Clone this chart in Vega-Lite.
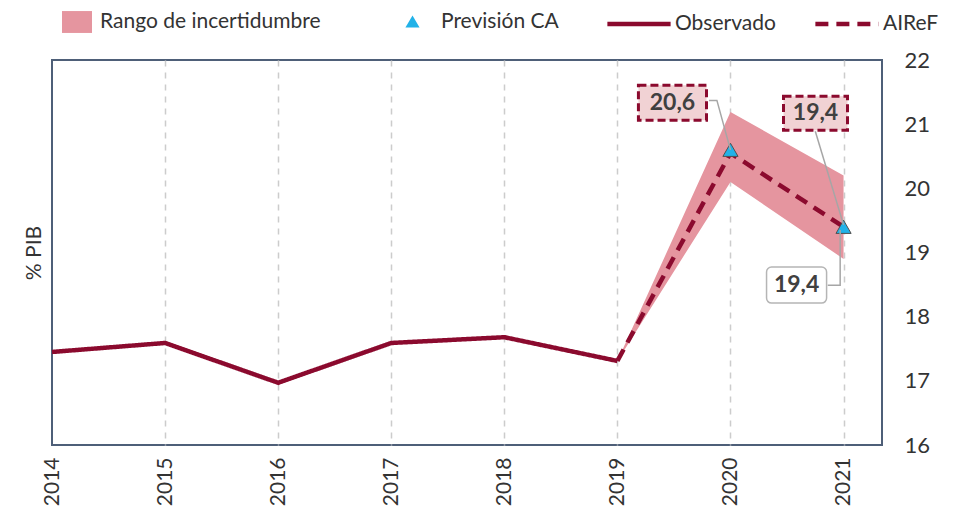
{
  "$schema": "https://vega.github.io/schema/vega-lite/v6.json",
  "width": 830,
  "height": 385,
  "autosize": {"type": "none"},
  "padding": {"left": 52, "top": 60, "right": 75, "bottom": 70},
  "config": {
    "font": "Lato",
    "view": {"stroke": "#4e5f78", "strokeWidth": 2},
    "axis": {"labelFont": "Lato", "titleFont": "Lato", "labelColor": "#333333", "titleColor": "#333333"},
    "legend": {"labelFont": "Lato", "labelColor": "#333333", "labelFontSize": 21, "labelLimit": 400}
  },
  "resolve": {"axis": {"x": "independent", "y": "independent"}},
  "datasets": {
    "obs": [
      {"year": 2014, "value": 17.45},
      {"year": 2015, "value": 17.59},
      {"year": 2016, "value": 16.97},
      {"year": 2017, "value": 17.59},
      {"year": 2018, "value": 17.68},
      {"year": 2019, "value": 17.31}
    ],
    "airef": [
      {"year": 2019, "value": 17.31},
      {"year": 2020, "value": 20.55},
      {"year": 2021, "value": 19.4}
    ],
    "band": [
      {"year": 2019, "lo": 17.31, "hi": 17.31},
      {"year": 2020, "lo": 20.1, "hi": 21.19},
      {"year": 2021, "lo": 18.9, "hi": 20.2}
    ],
    "ca": [
      {"year": 2020, "value": 20.6},
      {"year": 2021, "value": 19.4}
    ],
    "connectors": [
      {"id": "a", "ord": 1, "x": 2019.81, "y": 21.37},
      {"id": "a", "ord": 2, "x": 2019.88, "y": 21.37},
      {"id": "a", "ord": 3, "x": 2020.0, "y": 20.6},
      {"id": "b", "ord": 1, "x": 2020.75, "y": 20.89},
      {"id": "b", "ord": 2, "x": 2021.0, "y": 19.43},
      {"id": "c", "ord": 1, "x": 2020.86, "y": 18.49},
      {"id": "c", "ord": 2, "x": 2020.97, "y": 18.49},
      {"id": "c", "ord": 3, "x": 2020.97, "y": 19.35}
    ],
    "boxes": [
      {"kind": "airef", "x1": 2019.186, "x2": 2019.788, "y1": 21.607, "y2": 21.062},
      {"kind": "airef", "x1": 2020.469, "x2": 2021.035, "y1": 21.436, "y2": 20.907},
      {"kind": "ca", "x1": 2020.319, "x2": 2020.85, "y1": 18.773, "y2": 18.212}
    ],
    "labels": [
      {"x": 2019.487, "y": 21.33, "text": "20,6"},
      {"x": 2020.752, "y": 21.17, "text": "19,4"},
      {"x": 2020.585, "y": 18.49, "text": "19,4"}
    ]
  },
  "layer": [
    {
      "data": {"name": "band"},
      "mark": {"type": "area", "opacity": 1},
      "encoding": {
        "x": {
          "field": "year", "type": "quantitative",
          "scale": {"domain": [2014, 2021.34], "nice": false, "zero": false},
          "axis": {
            "values": [2014, 2015, 2016, 2017, 2018, 2019, 2020, 2021],
            "format": "d", "title": null, "labelAngle": -90, "labelFontSize": 21,
            "labelPadding": 12, "ticks": false, "domain": false,
            "grid": true, "gridDash": [6, 6], "gridWidth": 1.5,
            "gridColor": {"condition": {"test": "datum.value === 2014", "value": "transparent"}, "value": "#cccccc"}
          }
        },
        "y": {
          "field": "lo", "type": "quantitative",
          "scale": {"domain": [16, 22], "nice": false, "zero": false},
          "axis": {
            "orient": "right", "title": null, "values": [16, 17, 18, 19, 20, 21, 22],
            "labelFontSize": 22, "labelPadding": 22, "ticks": false, "domain": false, "grid": false
          }
        },
        "y2": {"field": "hi"},
        "fill": {
          "datum": "Rango de incertidumbre",
          "scale": {"domain": ["Rango de incertidumbre"], "range": ["#e5959f"]},
          "legend": {
            "title": null, "orient": "none", "legendX": 10, "legendY": -53,
            "symbolType": "M-1,-0.73H1V0.73H-1Z", "symbolSize": 900,
            "symbolOpacity": 1, "symbolStrokeWidth": 0, "labelOffset": 8
          }
        }
      }
    },
    {
      "data": {"name": "obs"},
      "mark": {"type": "line", "color": "#8b0a2e", "strokeWidth": 4.5},
      "encoding": {
        "x": {"field": "year", "type": "quantitative", "axis": null},
        "y": {
          "field": "value", "type": "quantitative",
          "axis": {
            "orient": "left", "title": "% PIB", "labels": false, "ticks": false,
            "domain": false, "grid": false, "titleFontSize": 21, "titleFontWeight": "normal",
            "titlePadding": 8
          }
        },
        "strokeDash": {
          "datum": "Observado",
          "scale": {"domain": ["Observado", "AIReF"], "range": [[1, 0], [13, 8]]},
          "legend": {
            "title": null, "orient": "none", "legendX": 553, "legendY": -70,
            "direction": "horizontal", "symbolType": "stroke", "symbolSize": 4000,
            "symbolStrokeColor": "#8b0a2e", "symbolStrokeWidth": 4.5,
            "labelOffset": 2, "columnPadding": 30
          }
        }
      }
    },
    {
      "data": {"name": "airef"},
      "mark": {"type": "line", "color": "#8b0a2e", "strokeWidth": 4.5},
      "encoding": {
        "x": {"field": "year", "type": "quantitative", "axis": null},
        "y": {"field": "value", "type": "quantitative", "axis": null},
        "strokeDash": {"datum": "AIReF"}
      }
    },
    {
      "data": {"name": "ca"},
      "mark": {"type": "point", "filled": true, "fill": "#22b2e8", "stroke": "#505050", "strokeWidth": 1, "size": 230, "opacity": 1},
      "encoding": {
        "x": {"field": "year", "type": "quantitative", "axis": null},
        "y": {"field": "value", "type": "quantitative", "axis": null},
        "shape": {
          "datum": "Previsión CA",
          "scale": {"domain": ["Previsión CA"], "range": ["triangle-up"]},
          "legend": {
            "title": null, "orient": "none", "legendX": 350, "legendY": -49,
            "symbolSize": 200, "symbolFillColor": "#22b2e8", "symbolStrokeColor": "#505050",
            "symbolStrokeWidth": 1, "labelOffset": 18
          }
        }
      }
    },
    {
      "data": {"name": "connectors"},
      "mark": {"type": "line", "color": "#a6a6a6", "strokeWidth": 1.5},
      "encoding": {
        "x": {"field": "x", "type": "quantitative", "axis": null},
        "y": {"field": "y", "type": "quantitative", "axis": null},
        "detail": {"field": "id"},
        "order": {"field": "ord"}
      }
    },
    {
      "data": {"name": "boxes"},
      "transform": [{"filter": "datum.kind === 'airef'"}],
      "mark": {"type": "rect", "fill": "#f1d2d4", "stroke": "#8b0a2e", "strokeWidth": 3, "strokeDash": [8, 4]},
      "encoding": {
        "x": {"field": "x1", "type": "quantitative", "axis": null},
        "x2": {"field": "x2"},
        "y": {"field": "y1", "type": "quantitative", "axis": null},
        "y2": {"field": "y2"}
      }
    },
    {
      "data": {"name": "boxes"},
      "transform": [{"filter": "datum.kind === 'ca'"}],
      "mark": {"type": "rect", "fill": "#ffffff", "stroke": "#b5b5b5", "strokeWidth": 1.5, "cornerRadius": 5},
      "encoding": {
        "x": {"field": "x1", "type": "quantitative", "axis": null},
        "x2": {"field": "x2"},
        "y": {"field": "y1", "type": "quantitative", "axis": null},
        "y2": {"field": "y2"}
      }
    },
    {
      "data": {"name": "labels"},
      "mark": {"type": "text", "font": "Lato", "fontSize": 23, "fontWeight": "bold", "color": "#404040", "align": "center", "baseline": "middle"},
      "encoding": {
        "x": {"field": "x", "type": "quantitative", "axis": null},
        "y": {"field": "y", "type": "quantitative", "axis": null},
        "text": {"field": "text"}
      }
    }
  ]
}
